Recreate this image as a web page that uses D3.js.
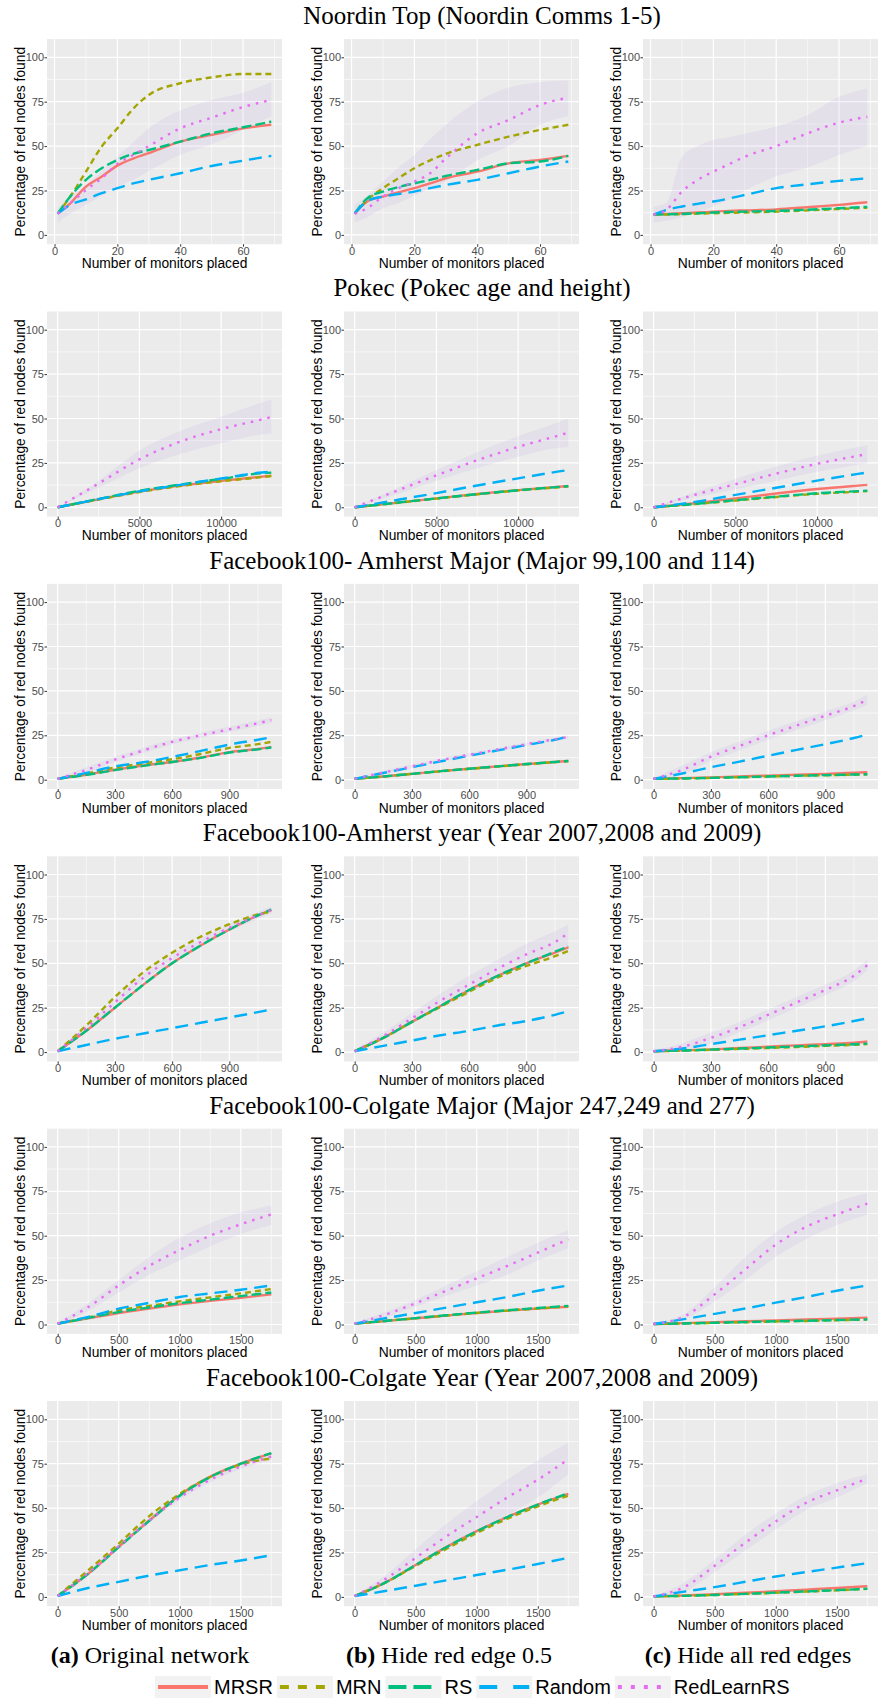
<!DOCTYPE html>
<html>
<head>
<meta charset="utf-8">
<script src="https://cdn.jsdelivr.net/npm/d3@7"></script>
<style>
  body { margin: 0; background: #fff; }
  svg { display: block; }
  .tick text { font-family: "Liberation Sans", Arial, sans-serif; font-size: 11px; fill: #4D4D4D; }
  .tick line { stroke: #333; }
  .axisTitle { font-family: "Liberation Sans", Arial, sans-serif; font-size: 13.8px; fill: #000; }
  .rowTitle { font-family: "Liberation Serif", "Times New Roman", serif; font-size: 25px; fill: #000; }
  .caption { font-family: "Liberation Serif", "Times New Roman", serif; font-size: 24px; fill: #000; }
  .legendText { font-family: "Liberation Sans", Arial, sans-serif; font-size: 20px; fill: #000; }
</style>
</head>
<body>
<svg id="mainSVG" width="882" height="1698"></svg>
<script>
const seriesNames = ["MRSR", "MRN", "RS", "Random", "RedLearnRS"];
const seriesColors = ["#F8766D", "#A3A500", "#00BF7D", "#00B0F6", "#E76BF3"];
const yTicks = [0, 25, 50, 75, 100];
const captionLetters = ["(a)", "(b)", "(c)"];
const captionTexts = ["Original network", "Hide red edge 0.5", "Hide all red edges"];

// Noordin Top
const noordinX = [1, 5, 10, 15, 20, 25, 30, 40, 50, 60, 69];
const noordinTicks = [0, 20, 40, 60];
const noordinMRSR = [
    [12, 17.8, 27.2, 32.8, 39, 43, 46, 52.5, 56.3, 60, 62],
    [12, 18.8, 21.6, 24, 26.3, 29, 31.9, 35.6, 40.3, 42.2, 44.5],
    [11.5, 11.8, 12.2, 12.6, 13.1, 13.5, 13.8, 14.4, 15.6, 16.9, 18.4]];
const noordinMRN = [
    [12, 21.6, 35.6, 49.7, 60, 71, 78.8, 85.4, 88.7, 90.6, 90.6],
    [12, 19.7, 26.3, 32, 37.5, 42, 45.6, 50.7, 55.3, 59.1, 62],
    [11.5, 11.5, 11.7, 12, 12.2, 12.4, 12.6, 13.1, 13.8, 14.6, 15.3]];
const noordinRS = [
    [12, 21.6, 31, 37.5, 42.2, 45.6, 47.8, 52.5, 57.2, 60.6, 63.8],
    [12, 20.6, 24.4, 27, 29, 31, 33.2, 36.6, 40.3, 41.3, 44.5],
    [11.5, 11.6, 11.8, 12.2, 12.6, 12.9, 13.1, 13.5, 14.2, 15, 15.8]];
const noordinRandom = [
    [12, 16.9, 20, 23.5, 26.3, 29, 31, 34.7, 38.8, 41.8, 44.5],
    [12, 19, 21.6, 23, 24.4, 26.3, 28.1, 31, 34.7, 38.5, 41.3],
    [11.5, 14, 16, 17.5, 18.8, 20.5, 22.5, 26.3, 28.5, 30.4, 31.9]];
const noordinRedLearn = [
    [12, 17.8, 25.3, 31.9, 40, 45, 50, 60, 66, 72, 76],
    [12, 15, 21.6, 26.3, 30, 34.7, 43, 57.2, 64.7, 73.2, 77.3],
    [11.5, 14, 24.4, 31, 35.6, 39.8, 44, 50, 57.2, 63.2, 66.5]];
const noordinUpper = [
    [15, 22, 28, 36, 44, 52, 60, 70, 76, 80, 86],
    [17, 22, 30, 38, 45, 54, 62, 75, 83, 86, 87],
    [16, 18, 44, 50, 53.5, 55, 57, 61, 67.5, 77.8, 82.5]];
const noordinLower = [
    [7, 12, 17, 22, 27, 31, 36, 45, 51, 59, 67],
    [7, 10, 15, 18, 22, 26, 30, 42, 50, 62, 67],
    [7, 8, 10, 13, 16, 20, 25, 33, 38, 45, 50]];

// Pokec
const pokecX = [0, 2500, 5000, 7500, 10000, 12500, 13070];
const pokecTicks = [0, 5000, 10000];
const pokecMRSR = [
    [0, 4.5, 8.8, 12.2, 14.9, 17.3, 17.8],
    [0, 2.5, 5, 7.5, 9.7, 11.6, 12],
    [0, 2.3, 5, 7.8, 10.3, 12.2, 12.6]];
const pokecMRN = [
    [0, 4.4, 8.6, 12.0, 14.7, 17.0, 17.6],
    [0, 2.4, 4.9, 7.3, 9.5, 11.3, 11.7],
    [0, 1.8, 3.8, 5.8, 7.6, 8.8, 9.1]];
const pokecRS = [
    [0, 4.7, 9.3, 12.8, 16.0, 19.2, 19.5],
    [0, 2.5, 5, 7.4, 9.6, 11.5, 11.9],
    [0, 1.9, 4, 6, 7.9, 9.1, 9.4]];
const pokecRandom = [
    [0, 4.6, 9.0, 12.6, 16.2, 19.6, 20.0],
    [0, 4, 8, 12.3, 16.3, 20.2, 21],
    [0, 3, 7, 11, 15, 18.8, 19.6]];
const pokecRedLearn = [
    [0, 13.4, 27, 37, 44, 49.5, 50.8],
    [0, 9, 18, 26.5, 34, 40.5, 42],
    [0, 7, 13, 19, 24.5, 29, 30]];
const pokecUpper = [
    [0, 15, 32, 43, 51, 59, 60.5],
    [0, 10.5, 21, 31, 40, 48, 50],
    [0, 8.5, 16, 23, 29, 34, 35]];
const pokecLower = [
    [0, 11, 22, 30, 36, 41, 41.5],
    [0, 7, 15, 22, 28.5, 33.5, 34],
    [0, 5.5, 10, 15, 20, 24, 25]];

// Facebook100 Amherst (major and year share x)
const amherstX = [0, 150, 300, 450, 600, 750, 900, 1050, 1120];
const amherstTicks = [0, 300, 600, 900];
const amMajorMRSR = [
    [0.5, 2.8, 5.6, 8, 10, 12.5, 15.5, 17.3, 18.5],
    [0.5, 1.8, 3.3, 4.8, 6.2, 7.5, 8.8, 10, 10.5],
    [0.5, 0.9, 1.3, 1.8, 2.3, 2.8, 3.3, 3.9, 4.2]];
const amMajorMRN = [
    [0.5, 3.5, 6.8, 9.2, 11.5, 14.5, 17.9, 20, 21.3],
    [0.5, 1.8, 3.3, 4.7, 6.1, 7.4, 8.7, 9.9, 10.4],
    [0.5, 0.7, 1, 1.4, 1.8, 2.2, 2.5, 2.8, 3]];
const amMajorRS = [
    [0.5, 2.7, 5.4, 7.8, 10, 12.3, 15.3, 17.1, 18.1],
    [0.5, 1.8, 3.3, 4.8, 6.2, 7.5, 8.8, 10, 10.6],
    [0.5, 0.7, 1, 1.4, 1.8, 2.2, 2.6, 2.9, 3.1]];
const amMajorRandom = [
    [0.5, 3.8, 7.5, 9.8, 12.8, 16.2, 19.8, 22.5, 23.9],
    [0.5, 3.8, 7, 10.3, 13.5, 16.5, 19.5, 22.5, 24.3],
    [0.5, 3.5, 7, 10.2, 13.5, 16.8, 20, 23.5, 25.5]];
const amMajorRedLearn = [
    [0.5, 5.5, 11.3, 16.5, 21.3, 25, 28.4, 31.8, 33.5],
    [0.5, 4, 7.5, 11, 14, 17, 20, 22.8, 24],
    [0.5, 5.5, 13, 19, 25, 30.5, 36, 41.5, 45]];
const amMajorUpper = [
    [1, 7, 12.8, 18, 22.8, 26.5, 30, 33.3, 35],
    [1, 5, 8.5, 12, 15, 18, 21, 23.8, 25],
    [1, 8, 15.5, 21.5, 27.5, 33, 38.5, 44, 48]];
const amMajorLower = [
    [0, 4, 9.8, 15, 19.8, 23.5, 26.8, 30.3, 32],
    [0, 3, 6.5, 10, 13, 16, 19, 21.8, 23],
    [0, 3, 10.5, 16.5, 22.5, 28, 33.5, 39, 42]];

const amYearMRSR = [
    [0.5, 12, 25, 38, 50, 60, 69, 77, 80],
    [0.5, 8, 17, 26, 35, 43, 50, 56, 59],
    [0.5, 1, 1.5, 2.3, 3, 3.8, 4.5, 5.3, 6]];
const amYearMRN = [
    [0.5, 15, 31, 45, 56, 65, 72, 77.5, 79],
    [0.5, 8, 17, 25.5, 34, 42, 48.5, 54, 57],
    [0.5, 0.8, 1.3, 1.8, 2.3, 2.9, 3.5, 4.1, 4.5]];
const amYearRS = [
    [0.5, 12, 25, 38, 50, 60, 69, 77, 80.2],
    [0.5, 8, 17, 26, 35, 43, 50, 56.5, 59.5],
    [0.5, 0.9, 1.4, 2, 2.6, 3.2, 3.8, 4.4, 4.8]];
const amYearRandom = [
    [0.5, 4, 7.5, 10.5, 13.5, 16.5, 19.5, 22.5, 24],
    [0.5, 3.5, 6.5, 9.5, 12, 15, 17.5, 21, 23],
    [0.5, 2, 4.5, 7, 9.5, 12, 14.5, 17.5, 19]];
const amYearRedLearn = [
    [0.5, 13.5, 28, 42, 53, 62, 70, 77, 80],
    [0.5, 9, 19, 29, 38, 47, 55, 62, 67],
    [0.5, 3, 8, 14, 21, 28, 35, 43, 49]];
const amYearUpper = [
    [1, 15, 30, 44, 55, 64, 72, 79, 82],
    [1, 11, 22, 33, 43, 52, 61, 68, 72],
    [1, 5, 11, 17, 24, 31, 38, 46, 52]];
const amYearLower = [
    [0, 12, 26, 40, 51, 60, 68, 75, 78],
    [0, 7, 16, 25, 33, 42, 49, 56, 60],
    [0, 1, 5, 11, 18, 25, 32, 40, 46]];

// Facebook100 Colgate (major and year share x)
const colgateX = [0, 250, 500, 750, 1000, 1250, 1500, 1750];
const colgateTicks = [0, 500, 1000, 1500];
const coMajorMRSR = [
    [0.5, 3.5, 6.5, 9, 11.3, 13.3, 15, 17],
    [0.5, 2, 3.5, 5, 6.5, 7.8, 9, 10],
    [0.3, 0.8, 1.3, 1.8, 2.3, 2.8, 3.3, 3.9]];
const coMajorMRN = [
    [0.5, 4, 8, 10.5, 13, 15.3, 17.5, 20],
    [0.5, 2, 3.5, 5, 6.5, 7.8, 9, 10.2],
    [0.3, 0.6, 0.9, 1.3, 1.7, 2, 2.4, 2.8]];
const coMajorRS = [
    [0.5, 3.7, 7, 9.6, 12, 14, 16, 18],
    [0.5, 2, 3.6, 5.2, 6.7, 8, 9.3, 10.5],
    [0.3, 0.6, 1, 1.4, 1.8, 2.1, 2.5, 2.9]];
const coMajorRandom = [
    [0.5, 4.3, 8.9, 12.2, 15.5, 17.5, 19.6, 22],
    [0.5, 3.5, 6.5, 9.5, 12.5, 15.5, 19, 22],
    [0.3, 3, 6, 9, 12.3, 15.5, 19, 22]];
const coMajorRedLearn = [
    [0.5, 9.8, 22, 33, 42, 50, 56.4, 62],
    [0.5, 5.5, 12, 19, 26, 33, 40.5, 48],
    [0.3, 4.5, 17, 31, 45, 55, 62, 68]];
const coMajorUpper = [
    [1, 12, 25, 38, 49, 57, 63, 67],
    [1, 7, 14, 22, 30, 38, 46, 53],
    [0.5, 6, 21, 38, 52, 62, 69, 74]];
const coMajorLower = [
    [0, 7.5, 18, 28, 36, 44, 51, 56],
    [0, 4, 10, 16, 22, 28, 36, 43],
    [0, 3, 13, 25, 38, 48, 56, 62]];

const coYearMRSR = [
    [0.5, 13, 28.2, 43, 57.3, 67.7, 75, 80.8],
    [0.5, 8, 18, 28, 37, 45, 52, 58],
    [0.3, 0.8, 1.5, 2.3, 3.2, 4.1, 5, 6]];
const coYearMRN = [
    [0.5, 15, 30, 45.5, 58, 67.5, 74.5, 78],
    [0.5, 8, 17.5, 27, 36, 44, 51, 57],
    [0.3, 0.6, 1.1, 1.7, 2.3, 3, 3.7, 4.5]];
const coYearRS = [
    [0.5, 13, 28, 42.8, 57, 67.5, 75, 81],
    [0.5, 8, 18, 28, 37, 45, 52, 58.5],
    [0.3, 0.6, 1.1, 1.7, 2.4, 3.1, 3.8, 4.6]];
const coYearRandom = [
    [0.5, 5, 8.5, 12, 15, 18, 20.5, 23.5],
    [0.5, 3.3, 6.3, 9.3, 12.3, 15.3, 18.5, 22],
    [0.3, 3, 5.5, 8.5, 11.5, 14, 16.5, 19]];
const coYearRedLearn = [
    [0.5, 13.5, 28.5, 43, 56, 66, 73.5, 79],
    [0.5, 10, 22, 34, 45, 56, 66, 77.5],
    [0.3, 5.5, 17.5, 30.5, 42.5, 53, 60, 66.5]];
const coYearUpper = [
    [1, 15, 30, 44.5, 57.5, 67.5, 75, 81],
    [1, 12, 27, 41, 54, 66, 77, 87],
    [0.5, 8, 21, 35, 47, 57, 64, 69]];
const coYearLower = [
    [0, 12, 27, 41.5, 54.5, 64.5, 72, 77],
    [0, 8, 18, 28, 37, 46, 56, 69],
    [0, 3, 14, 26, 38, 49, 56, 64]];

const rowTitles = [
    "Noordin Top (Noordin Comms 1-5)",
    "Pokec (Pokec age and height)",
    "Facebook100- Amherst Major (Major 99,100 and 114)",
    "Facebook100-Amherst year (Year 2007,2008 and 2009)",
    "Facebook100-Colgate Major (Major 247,249 and 277)",
    "Facebook100-Colgate Year (Year 2007,2008 and 2009)"];

const rows = [
    {x: noordinX, ticks: noordinTicks, lines: [noordinMRSR, noordinMRN, noordinRS, noordinRandom, noordinRedLearn], upper: noordinUpper, lower: noordinLower},
    {x: pokecX, ticks: pokecTicks, lines: [pokecMRSR, pokecMRN, pokecRS, pokecRandom, pokecRedLearn], upper: pokecUpper, lower: pokecLower},
    {x: amherstX, ticks: amherstTicks, lines: [amMajorMRSR, amMajorMRN, amMajorRS, amMajorRandom, amMajorRedLearn], upper: amMajorUpper, lower: amMajorLower},
    {x: amherstX, ticks: amherstTicks, lines: [amYearMRSR, amYearMRN, amYearRS, amYearRandom, amYearRedLearn], upper: amYearUpper, lower: amYearLower},
    {x: colgateX, ticks: colgateTicks, lines: [coMajorMRSR, coMajorMRN, coMajorRS, coMajorRandom, coMajorRedLearn], upper: coMajorUpper, lower: coMajorLower},
    {x: colgateX, ticks: colgateTicks, lines: [coYearMRSR, coYearMRN, coYearRS, coYearRandom, coYearRedLearn], upper: coYearUpper, lower: coYearLower}];

// styles for lines (plot) and legend keys
const lineDash = [null, "6,4", "10,4", "13,7", "2.5,6"];
const keyDash = [null, "9,9", "18,7", "18,16", "4,9"];

const svg = d3.select("#mainSVG");
const colLeft = [47, 344, 643], panelW = 235;
const rowPitch = 272.4, firstTop = 57.3, plotH = 177.6;

rows.forEach(function (row, r) {
    const y100 = firstTop + r * rowPitch;
    const y = d3.scaleLinear().domain([0, 100]).range([y100 + plotH, y100]);

    svg.append("text")
        .attr("class", "rowTitle")
        .attr("x", 482)
        .attr("y", 24 + r * rowPitch)
        .attr("text-anchor", "middle")
        .text(rowTitles[r]);

    const xmin = d3.min(row.x), xmax = d3.max(row.x), pad = (xmax - xmin) * 0.05;

    for (let c = 0; c < 3; c++) {
        const left = colLeft[c];
        const x = d3.scaleLinear().domain([xmin - pad, xmax + pad]).range([left, left + panelW]);
        const g = svg.append("g");
        const top = y(110.25), bottom = y(-5.25);

        g.append("rect")
            .attr("x", left).attr("y", top)
            .attr("width", panelW).attr("height", bottom - top)
            .attr("fill", "#EBEBEB");

        // grid
        const step = row.ticks[1] - row.ticks[0];
        const xMinor = d3.range(row.ticks[0] - step / 2, xmax + pad, step).filter(v => v > xmin - pad);
        const yMinor = [12.5, 37.5, 62.5, 87.5];
        g.selectAll(".gxm").data(xMinor).enter().append("line")
            .attr("x1", d => x(d)).attr("x2", d => x(d)).attr("y1", top).attr("y2", bottom)
            .attr("stroke", "#fff").attr("stroke-width", 0.6);
        g.selectAll(".gym").data(yMinor).enter().append("line")
            .attr("x1", left).attr("x2", left + panelW).attr("y1", d => y(d)).attr("y2", d => y(d))
            .attr("stroke", "#fff").attr("stroke-width", 0.6);
        g.selectAll(".gx").data(row.ticks).enter().append("line")
            .attr("x1", d => x(d)).attr("x2", d => x(d)).attr("y1", top).attr("y2", bottom)
            .attr("stroke", "#fff").attr("stroke-width", 1.2);
        g.selectAll(".gy").data(yTicks).enter().append("line")
            .attr("x1", left).attr("x2", left + panelW).attr("y1", d => y(d)).attr("y2", d => y(d))
            .attr("stroke", "#fff").attr("stroke-width", 1.2);

        // ribbon for RedLearnRS
        const band = d3.area()
            .x((d, i) => x(row.x[i]))
            .y0((d, i) => y(row.lower[c][i]))
            .y1((d, i) => y(row.upper[c][i]))
            .curve(d3.curveMonotoneX);
        g.append("path")
            .attr("d", band(row.x))
            .attr("fill", "#9E7FE0")
            .attr("fill-opacity", 0.1);

        // lines
        row.lines.forEach(function (vals, s) {
            const line = d3.line()
                .x((d, i) => x(row.x[i]))
                .y(d => y(d))
                .curve(d3.curveMonotoneX);
            g.append("path")
                .attr("d", line(vals[c]))
                .attr("fill", "none")
                .attr("stroke", seriesColors[s])
                .attr("stroke-width", 2.4)
                .attr("stroke-dasharray", lineDash[s]);
        });

        // axes
        const ax = g.append("g")
            .attr("transform", "translate(0," + bottom + ")")
            .call(d3.axisBottom(x).tickValues(row.ticks).tickSize(2.5).tickPadding(0).tickFormat(d3.format("d")));
        ax.select(".domain").remove();
        const ay = g.append("g")
            .attr("transform", "translate(" + left + ",0)")
            .call(d3.axisLeft(y).tickValues(yTicks).tickSize(2.5).tickPadding(0.5));
        ay.select(".domain").remove();

        g.append("text")
            .attr("class", "axisTitle")
            .attr("x", left + panelW / 2)
            .attr("y", bottom + 23.5)
            .attr("text-anchor", "middle")
            .text("Number of monitors placed");

        g.append("text")
            .attr("class", "axisTitle")
            .attr("transform", "translate(" + (left - 27) + "," + ((top + bottom) / 2) + ") rotate(-90)")
            .attr("text-anchor", "middle")
            .attr("dy", "0.35em")
            .text("Percentage of red nodes found");
    }
});

// sub-captions
const captionX = [150, 449, 748];
captionX.forEach(function (cx, i) {
    const t = svg.append("text")
        .attr("class", "caption")
        .attr("x", cx)
        .attr("y", 1663)
        .attr("text-anchor", "middle");
    t.append("tspan").attr("font-weight", "bold").text(captionLetters[i]);
    t.append("tspan").text(" " + captionTexts[i]);
});

// legend
const legendG = svg.append("g").attr("transform", "translate(155,1676)");
let lx = 0;
seriesNames.forEach(function (name, i) {
    legendG.append("rect")
        .attr("x", lx).attr("y", 0)
        .attr("width", 56).attr("height", 22)
        .attr("fill", "#F2F2F2");
    legendG.append("line")
        .attr("x1", lx + 3).attr("x2", lx + 53)
        .attr("y1", 11).attr("y2", 11)
        .attr("stroke", seriesColors[i])
        .attr("stroke-width", 4)
        .attr("stroke-dasharray", keyDash[i]);
    const t = legendG.append("text")
        .attr("class", "legendText")
        .attr("x", lx + 59)
        .attr("y", 18)
        .text(name);
    lx += 59 + t.node().getComputedTextLength() + 4;
});
</script>
</body>
</html>
